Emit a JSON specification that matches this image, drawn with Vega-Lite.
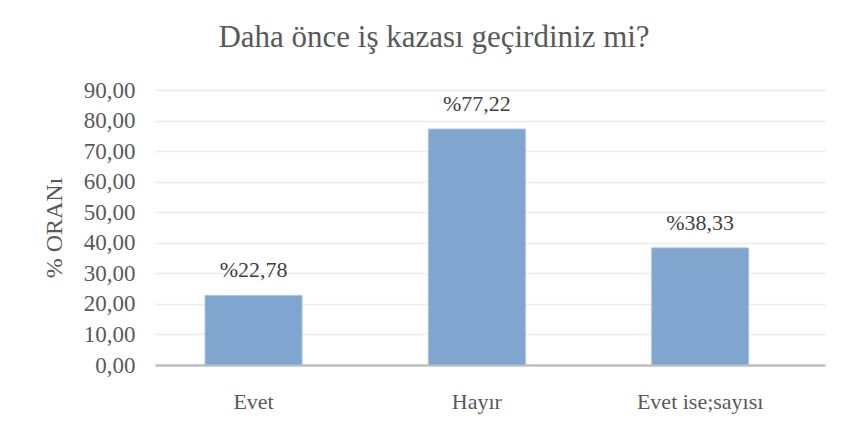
{
  "$schema": "https://vega.github.io/schema/vega-lite/v6.json",
  "width": 670,
  "height": 275,
  "autosize": {"type": "none"},
  "padding": {"left": 155, "top": 90, "right": 20, "bottom": 59},
  "background": "white",
  "title": {
    "text": "Daha önce iş kazası geçirdiniz mi?",
    "font": "'Times New Roman', 'Liberation Serif', serif",
    "fontSize": 31,
    "fontWeight": "normal",
    "color": "#595959",
    "anchor": "middle",
    "dx": -56,
    "offset": 25
  },
  "data": {
    "values": [
      {"kategori": "Evet", "oran": 22.78},
      {"kategori": "Hayır", "oran": 77.22},
      {"kategori": "Evet ise;sayısı", "oran": 38.33}
    ]
  },
  "transform": [
    {"calculate": "'%' + replace(format(datum.oran, '.2f'), '.', ',')", "as": "etiket"}
  ],
  "encoding": {
    "x": {
      "field": "kategori",
      "type": "nominal",
      "sort": null,
      "scale": {"paddingInner": 0.5656, "paddingOuter": 0.283, "align": 0.396},
      "axis": {
        "title": null,
        "labelAngle": 0,
        "labelFont": "'Times New Roman', 'Liberation Serif', serif",
        "labelFontSize": 22,
        "labelColor": "#595959",
        "labelPadding": 26,
        "ticks": false,
        "domainColor": "#BFBFBF",
        "domainWidth": 2.5
      }
    },
    "y": {
      "field": "oran",
      "type": "quantitative",
      "scale": {"domain": [0, 90], "nice": false},
      "axis": {
        "title": "% ORANı",
        "titleFont": "'Times New Roman', 'Liberation Serif', serif",
        "titleFontSize": 24,
        "titleFontWeight": "normal",
        "titleColor": "#595959",
        "titlePadding": 17,
        "values": [0, 10, 20, 30, 40, 50, 60, 70, 80, 90],
        "labelExpr": "replace(format(datum.value, '.2f'), '.', ',')",
        "labelFont": "'Times New Roman', 'Liberation Serif', serif",
        "labelFontSize": 23,
        "labelColor": "#595959",
        "labelPadding": 20,
        "ticks": false,
        "domain": false,
        "gridColor": "#EBEBEB",
        "gridWidth": 1.5
      }
    }
  },
  "layer": [
    {
      "mark": {"type": "bar", "color": "#80A6D0", "stroke": "#A9C3E0", "strokeWidth": 1}
    },
    {
      "mark": {
        "type": "text",
        "baseline": "alphabetic",
        "dy": -18,
        "font": "'Times New Roman', 'Liberation Serif', serif",
        "fontSize": 22,
        "color": "#404040"
      },
      "encoding": {"text": {"field": "etiket"}}
    }
  ],
  "config": {"view": {"stroke": null}}
}
